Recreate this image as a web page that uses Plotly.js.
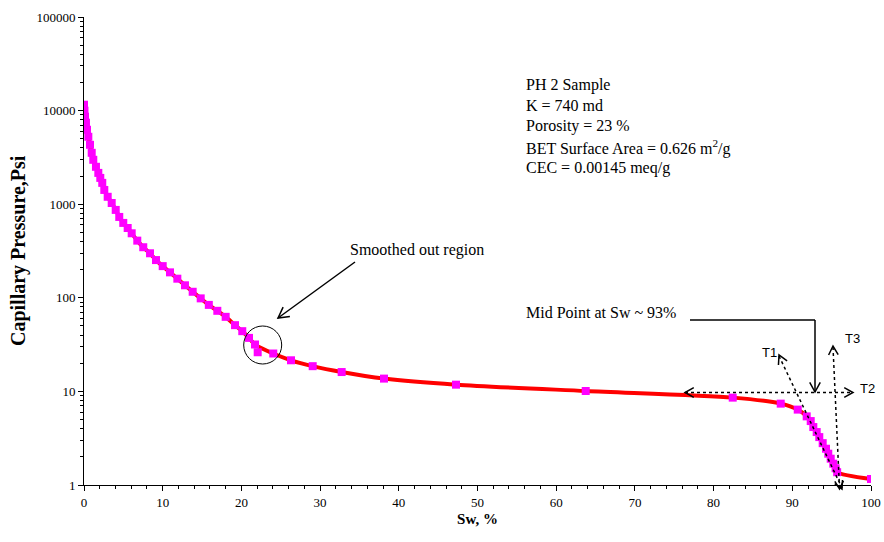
<!DOCTYPE html>
<html>
<head>
<meta charset="utf-8">
<script src="https://cdn.plot.ly/plotly-3.0.1.min.js"></script>
<style>html,body{margin:0;padding:0;background:#fff;}#chart{width:884px;height:542px;}</style>
</head>
<body>
<div id="chart"></div>
<script>
// ---- data ----
const swMeasured = [0.00, 0.06, 0.13, 0.25, 0.38, 0.55, 0.76, 0.98, 1.18, 1.52, 1.82, 2.07, 2.32, 2.58, 3.01, 3.52, 4.03, 4.48, 4.99, 5.55,
  6.06, 6.77, 7.53, 8.39, 9.15, 10.0, 10.93, 11.86, 12.83, 13.81, 14.83, 15.86, 16.94, 18.0, 19.19, 20.11, 20.97, 21.73,
  24.05, 26.3, 29.06, 32.74, 38.12, 47.27, 63.75, 82.43, 88.53, 90.69, 91.83, 92.34, 92.67, 93.10, 93.43, 93.86, 94.28,
  94.57, 94.88, 95.21, 95.50, 95.70, 100.0];
const pcMeasured = [11560, 9980, 8610, 7420, 6240, 5250, 4310, 3540, 2980, 2510, 2160, 1910, 1690, 1420, 1200, 1030, 869, 731, 631, 557,
  489, 408, 347, 299, 253, 218, 187, 160, 136, 116, 98.6, 84, 72.6, 62.6, 51, 44, 37.3, 31.7,
  25.4, 21.5, 18.6, 16.1, 13.7, 11.8, 10.1, 8.58, 7.40, 6.39, 5.41, 4.82, 4.16, 3.68, 3.25, 2.80, 2.44,
  2.16, 1.91, 1.69, 1.51, 1.37, 1.16];
// point left off the smoothed curve
const swOutlier = [22.07];
const pcOutlier = [26.2];

const yTickVals = [1, 10, 100, 1000, 10000, 100000];
const yTickText = ['1', '10', '100', '1000', '10000', '100000'];

const infoLines = ['PH 2 Sample', 'K = 740 md', 'Porosity = 23 %',
  'BET Surface Area = 0.626 m<sup>2</sup>/g', 'CEC = 0.00145 meq/g'];

// ---- pixel -> paper helpers for decorations ----
const L = 84, R = 871, T = 17, B = 485;
const PX = x => (x - L) / (R - L);
const PY = y => (B - y) / (B - T);

function chevron(tx, ty, dx, dy, len, color) {
  const n = Math.hypot(dx, dy); dx /= n; dy /= n;
  const ang = 0.5;
  const c = Math.cos(ang), s = Math.sin(ang);
  const bx = -dx, by = -dy;
  const a1x = tx + len * (bx * c - by * s), a1y = ty + len * (bx * s + by * c);
  const a2x = tx + len * (bx * c + by * s), a2y = ty + len * (-bx * s + by * c);
  return {type: 'path', xref: 'paper', yref: 'paper',
    path: `M${PX(a1x)},${PY(a1y)} L${PX(tx)},${PY(ty)} L${PX(a2x)},${PY(a2y)}`,
    line: {color: color, width: 1.5}};
}
function seg(x0, y0, x1, y1, dash, w) {
  return {type: 'line', xref: 'paper', yref: 'paper', x0: PX(x0), y0: PY(y0), x1: PX(x1), y1: PY(y1),
    line: {color: 'black', width: w || 1.5, dash: dash || 'solid'}};
}

const shapes = [
  {type: 'circle', xref: 'paper', yref: 'paper', x0: PX(243.7), x1: PX(281.7), y0: PY(364), y1: PY(326),
    line: {color: 'black', width: 1}},
  seg(355, 262, 278, 318), chevron(278, 318, -77, 56, 12, 'black'),
  seg(690, 320, 815, 320), seg(815, 320, 815, 392), chevron(815, 392, 0, 1, 11, 'black'),
  seg(685, 392.5, 853, 392.5, 'dot'), chevron(685, 392.5, -1, 0, 10, 'black'), chevron(853, 392.5, 1, 0, 10, 'black'),
  seg(779, 356, 842, 488, 'dot'), chevron(779, 355, -63, -132, 10, 'black'), chevron(842, 489, 63, 132, 9, 'black'),
  seg(833, 347, 839.5, 488, 'dot'), chevron(833, 346, -6.5, -141, 10, 'black'), chevron(839.5, 489, 6.5, 141, 9, 'black')
];

const serif = 'Liberation Serif, Times New Roman, serif';
const sans = 'Liberation Sans, Arial, sans-serif';
const infoY = [85, 105, 126, 147, 168];
const annotations = infoLines.map((t, i) => ({
  xref: 'paper', yref: 'paper', x: PX(524), y: PY(infoY[i]), xanchor: 'left', yanchor: 'middle',
  text: t, showarrow: false, font: {family: serif, size: 16, color: 'black'}
}));
annotations.push(
  {xref: 'paper', yref: 'paper', x: PX(348), y: PY(250), xanchor: 'left', yanchor: 'middle',
    text: 'Smoothed out region', showarrow: false, font: {family: serif, size: 16, color: 'black'}},
  {xref: 'paper', yref: 'paper', x: PX(524), y: PY(312), xanchor: 'left', yanchor: 'middle',
    text: 'Mid Point at Sw ~ 93%', showarrow: false, font: {family: serif, size: 16, color: 'black'}},
  {xref: 'paper', yref: 'paper', x: PX(760), y: PY(352), xanchor: 'left', yanchor: 'middle',
    text: 'T1', showarrow: false, font: {family: sans, size: 13, color: 'black'}},
  {xref: 'paper', yref: 'paper', x: PX(858), y: PY(388), xanchor: 'left', yanchor: 'middle',
    text: 'T2', showarrow: false, font: {family: sans, size: 13, color: 'black'}},
  {xref: 'paper', yref: 'paper', x: PX(843), y: PY(338), xanchor: 'left', yanchor: 'middle',
    text: 'T3', showarrow: false, font: {family: sans, size: 13, color: 'black'}},
  {xref: 'paper', yref: 'paper', x: PX(18), y: PY(251), xanchor: 'center', yanchor: 'middle', textangle: -90,
    text: '<b>Capillary Pressure,Psi</b>', showarrow: false, font: {family: serif, size: 20, color: 'black'}}
);

const traces = [
  {x: swMeasured, y: pcMeasured, type: 'scatter', mode: 'lines',
    line: {color: '#FF0000', width: 4, shape: 'spline', smoothing: 0.8}, hoverinfo: 'skip'},
  {x: swMeasured.concat(swOutlier), y: pcMeasured.concat(pcOutlier), type: 'scatter', mode: 'markers',
    marker: {symbol: 'square', size: 8, color: '#FF00FF'}}
];

const layout = {
  width: 884, height: 542,
  margin: {l: 84, r: 13, t: 17, b: 57},
  paper_bgcolor: 'white', plot_bgcolor: 'white',
  showlegend: false,
  xaxis: {
    range: [0, 100], tick0: 0, dtick: 10, ticks: 'outside', ticklen: 5, tickwidth: 1, tickcolor: 'black',
    showline: true, linecolor: 'black', linewidth: 1, showgrid: false, zeroline: false,
    minor: {dtick: 2, ticks: 'outside', ticklen: 3, tickcolor: 'black', showgrid: false},
    tickfont: {family: serif, size: 13, color: 'black'},
    title: {text: 'Sw, %', font: {family: serif, size: 15, color: 'black', weight: 'bold'}, standoff: 4}
  },
  yaxis: {
    type: 'log', range: [0, 5], tickmode: 'array', tickvals: yTickVals, ticktext: yTickText,
    ticks: 'outside', ticklen: 5, tickwidth: 1, tickcolor: 'black',
    showline: true, linecolor: 'black', linewidth: 1, showgrid: false, zeroline: false,
    minor: {dtick: 'D1', ticks: 'outside', ticklen: 3, tickcolor: 'black', showgrid: false},
    tickfont: {family: serif, size: 13, color: 'black'}
  },
  shapes: shapes,
  annotations: annotations
};

Plotly.newPlot('chart', traces, layout, {displayModeBar: false, staticPlot: true});
</script>
</body>
</html>
